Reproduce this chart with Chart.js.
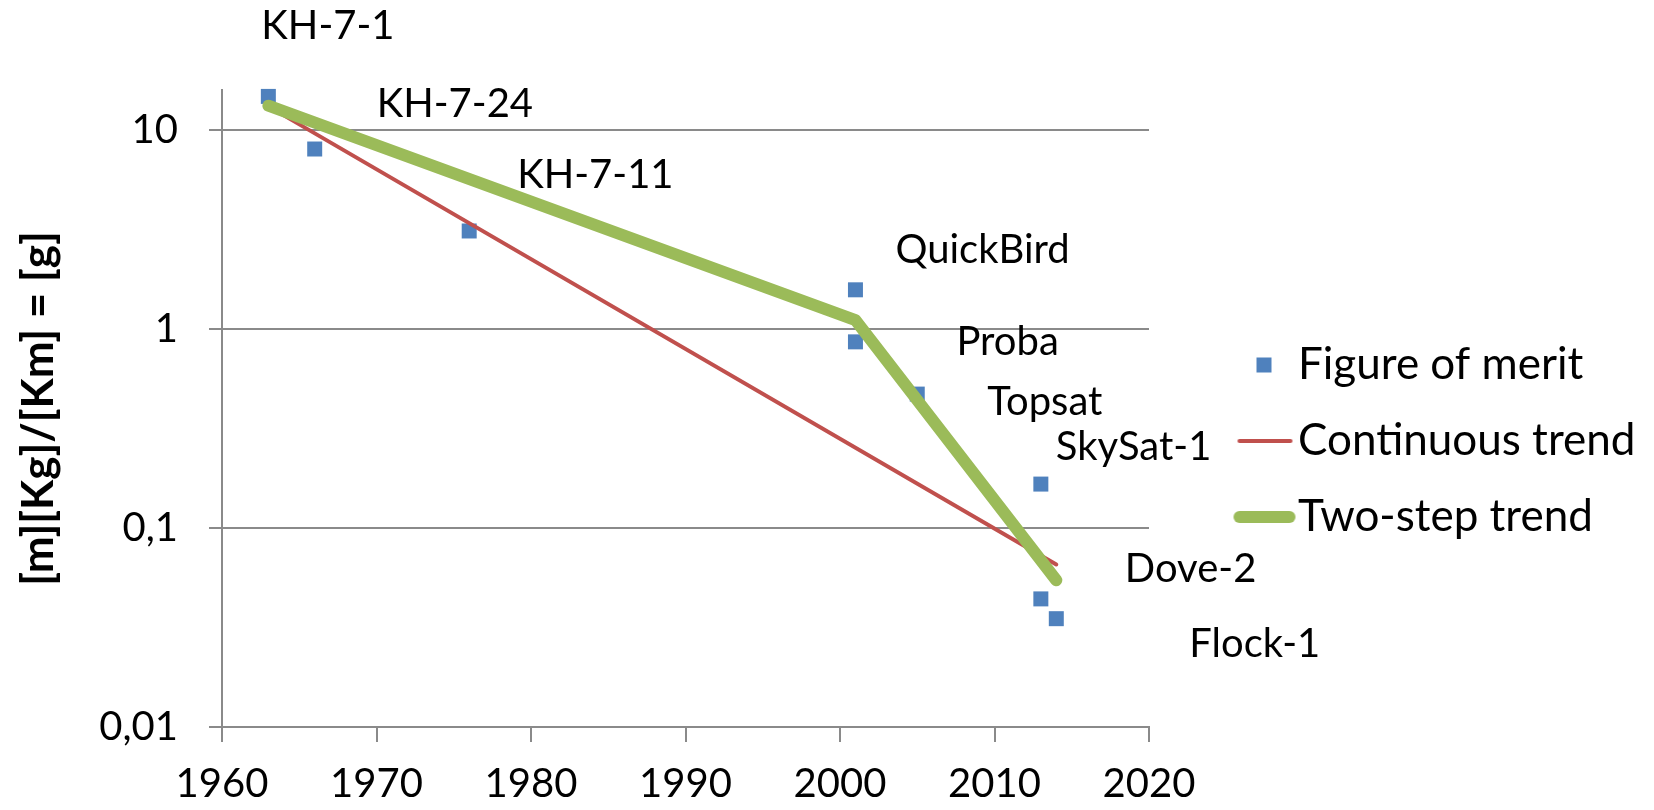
<!DOCTYPE html>
<html>
<head>
<meta charset="utf-8">
<script src="https://cdn.jsdelivr.net/npm/chart.js@4.4.1/dist/chart.umd.min.js"></script>
<style>
  html, body { margin: 0; padding: 0; background: #ffffff; }
  #wrap { width: 1654px; height: 810px; position: relative; }
</style>
</head>
<body>
<div id="wrap"><canvas id="c" width="1654" height="810"></canvas></div>
<script>
// ---- data ----
const satNames   = ['KH-7-1', 'KH-7-24', 'KH-7-11', 'QuickBird', 'Proba', 'Topsat', 'SkySat-1', 'Dove-2', 'Flock-1'];
const satYears   = [1963, 1966, 1976, 2001, 2001, 2005, 2013, 2013, 2014];
const satMerit   = [14.7, 8.0, 3.1, 1.57, 0.86, 0.47, 0.166, 0.044, 0.035];

const contYears  = [1963, 2014];
const contValues = [13.1, 0.0655];

const twoYears   = [1963, 2001, 2014];
const twoValues  = [13.2, 1.106, 0.0546];

const xTickValues = [1960, 1970, 1980, 1990, 2000, 2010, 2020];
const xTickLabels = ['1960', '1970', '1980', '1990', '2000', '2010', '2020'];
const yTickValues = [0.01, 0.1, 1, 10];
const yTickLabels = ['0,01', '0,1', '1', '10'];

const seriesNames = ['Figure of merit', 'Continuous trend', 'Two-step trend'];
const yTitle = '[m][Kg]/[Km] = [g]';

// ---- styles ----
const FONT = 'Lato';
const BLUE = '#4F81BD', RED = '#C0504D', GREEN = '#9BBB59', GRID = '#8a8a8a';
// label offsets (px) relative to each marker: [dx, dy]
const labelOffsets = [[-7, -70], [62, -45], [48, -56], [40, -40], [101, 0], [70, 8], [15, -37], [84, -30], [133, 25]];

const W = 1654, H = 810;
const plotLeft = 222, plotRight = 1149, plotTop = 90, plotBottom = 727, outerTop = 72;
const legendFont = 44, legendPad = 32, legendBox = 95, labelFont = 40;

function mk(w, h, draw) {
  const c = document.createElement('canvas'); c.width = w; c.height = h;
  draw(c.getContext('2d')); return c;
}
const icoMerit = mk(140, 16, g => { g.fillStyle = BLUE; g.fillRect(98, 0.5, 15, 15); });
const icoCont  = mk(140, 6,  g => { g.strokeStyle = RED; g.lineWidth = 4; g.lineCap = 'round'; g.beginPath(); g.moveTo(81, 3); g.lineTo(132, 3); g.stroke(); });
const icoTwo   = mk(140, 14, g => { g.strokeStyle = GREEN; g.lineWidth = 12; g.lineCap = 'round'; g.beginPath(); g.moveTo(81, 7); g.lineTo(131, 7); g.stroke(); });
const icons = [icoMerit, icoCont, icoTwo];

// measure legend text width to place the legend
const mctx = document.createElement('canvas').getContext('2d');
mctx.font = legendFont + 'px ' + FONT;
const maxText = Math.max(...seriesNames.map(s => mctx.measureText(s).width));
const legendWidth = legendPad + legendBox + legendFont / 2 + maxText + 10;
const padRight = Math.max(0, W - plotRight - legendWidth);

const labelPlugin = {
  id: 'satLabels',
  afterDatasetsDraw(chart) {
    const {ctx, scales: {x, y}} = chart;
    ctx.save();
    ctx.font = labelFont + 'px ' + FONT;
    ctx.fillStyle = '#000';
    ctx.textAlign = 'left';
    ctx.textBaseline = 'middle';
    satNames.forEach((n, i) => {
      const px = x.getPixelForValue(satYears[i]) + labelOffsets[i][0];
      const py = y.getPixelForValue(satMerit[i]) + labelOffsets[i][1];
      ctx.fillText(n, px, py);
    });
    ctx.restore();
  }
};

new Chart(document.getElementById('c'), {
  type: 'scatter',
  data: {
    datasets: [
      {
        label: seriesNames[0],
        data: satYears.map((v, i) => ({x: v, y: satMerit[i]})),
        backgroundColor: BLUE, borderWidth: 0,
        pointStyle: 'rect', pointRadius: 10.6, pointHoverRadius: 10.6,
        order: 3, clip: false
      },
      {
        label: seriesNames[1], type: 'line',
        data: contYears.map((v, i) => ({x: v, y: contValues[i]})),
        borderColor: RED, borderWidth: 4, pointRadius: 0, fill: false,
        borderCapStyle: 'round', order: 2, clip: false
      },
      {
        label: seriesNames[2], type: 'line',
        data: twoYears.map((v, i) => ({x: v, y: twoValues[i]})),
        borderColor: GREEN, borderWidth: 12, pointRadius: 0, fill: false,
        borderCapStyle: 'round', borderJoinStyle: 'round', order: 1, clip: false
      }
    ]
  },
  options: {
    responsive: false,
    animation: false,
    devicePixelRatio: 1,
    layout: { padding: { top: outerTop, right: padRight, bottom: 0, left: 0 } },
    scales: {
      x: {
        type: 'linear', min: 1960, max: 2020,
        afterBuildTicks: s => { s.ticks = xTickValues.map(v => ({value: v})); },
        afterFit: s => { s.height = H - plotBottom; },
        grid: { drawOnChartArea: false, drawTicks: true, tickLength: 15, color: GRID, lineWidth: 2 },
        border: { color: GRID, width: 2 },
        ticks: {
          font: { family: FONT, size: 40 }, color: '#000', padding: 18, maxRotation: 0,
          callback: (v) => { const k = xTickValues.indexOf(v); return k >= 0 ? xTickLabels[k] : ''; }
        }
      },
      y: {
        type: 'logarithmic', min: 0.01, max: 15.83,
        afterBuildTicks: s => { s.ticks = yTickValues.map(v => ({value: v})); },
        afterFit: s => { s.width = plotLeft; s.paddingTop = plotTop; },
        grid: { color: GRID, lineWidth: 2, tickLength: 13 },
        border: { color: GRID, width: 2 },
        ticks: {
          font: { family: FONT, size: 40 }, color: '#000', padding: 31,
          callback: (v) => { const k = yTickValues.indexOf(v); return k >= 0 ? yTickLabels[k] : ''; }
        },
        title: { display: true, text: yTitle, color: '#000', font: { family: FONT, size: 44, weight: 'bold' }, padding: { top: 12, bottom: 0 } }
      }
    },
    plugins: {
      tooltip: { enabled: false },
      legend: {
        position: 'right',
        align: 'center',
        maxWidth: 800,
        labels: {
          font: { family: FONT, size: legendFont }, color: '#000',
          padding: legendPad, usePointStyle: true, pointStyleWidth: legendBox,
          generateLabels: () => seriesNames.map((n, i) => ({
            text: n, pointStyle: icons[i], fillStyle: 'transparent', strokeStyle: 'transparent',
            lineWidth: 0, hidden: false, datasetIndex: i
          }))
        }
      }
    }
  },
  plugins: [labelPlugin]
});
</script>
</body>
</html>
